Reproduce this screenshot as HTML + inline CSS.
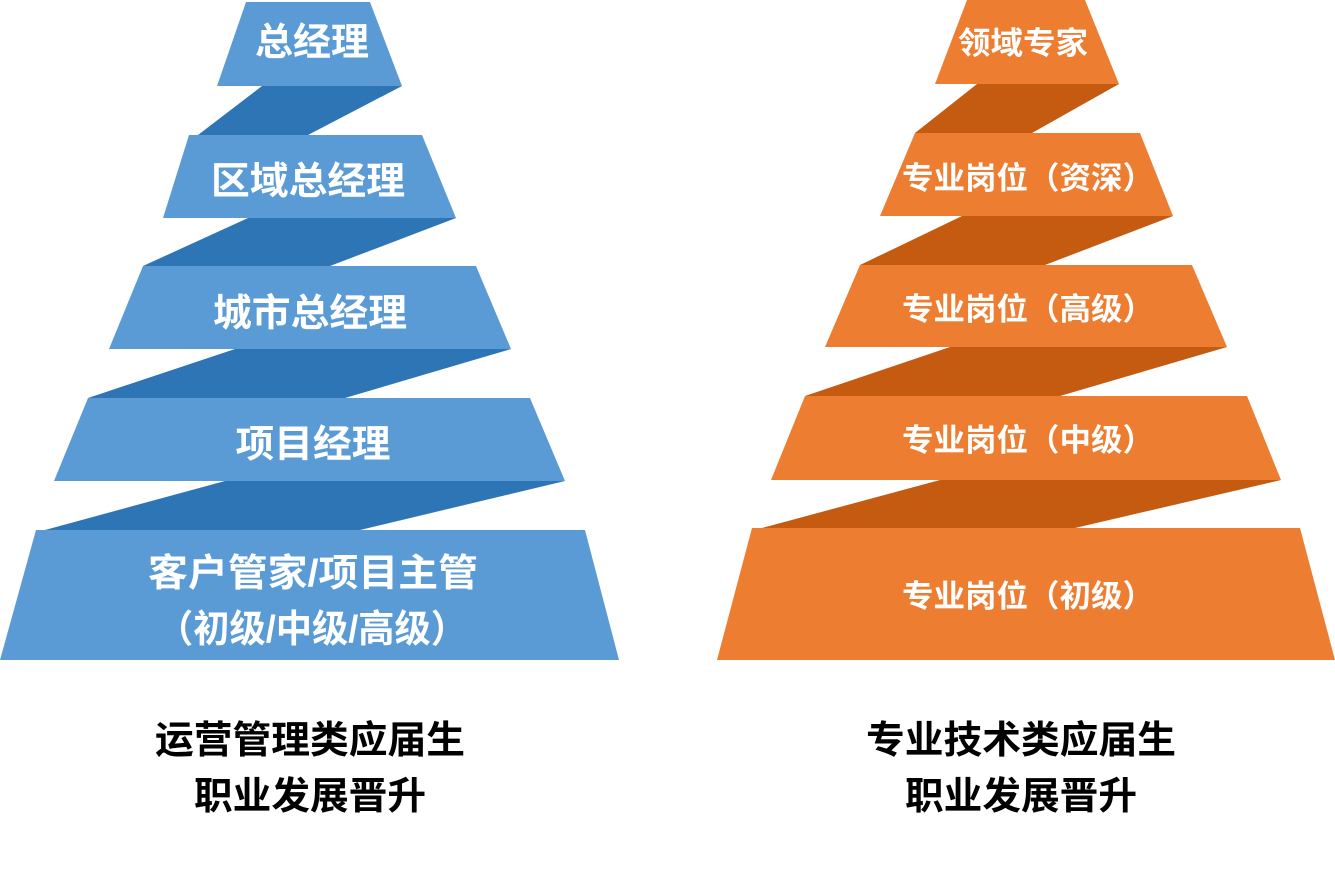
<!DOCTYPE html>
<html><head><meta charset="utf-8"><style>
html,body{margin:0;padding:0;background:#fff;}
svg text{font-family:"Liberation Sans","Noto Sans CJK SC",sans-serif;font-weight:bold;text-anchor:middle;}
</style></head><body>
<svg width="1335" height="868" viewBox="0 0 1335 868" xmlns="http://www.w3.org/2000/svg">
<g fill="#2E75B6">
<polygon points="262,86 402,86 308,135 198,135"/>
<polygon points="248,218 456,218 330,266 143,266"/>
<polygon points="235,349 511,349 345,398 88,398"/>
<polygon points="225,481 565,481 360,530 45,530"/>
</g>
<g fill="#5B9BD5">
<polygon points="246,2 370,2 402,86 217,86"/>
<polygon points="189,135 422,135 456,218 163,218"/>
<polygon points="143,266 476,266 511,349 109,349"/>
<polygon points="88,398 530,398 565,481 54,481"/>
<polygon points="36,530 585,530 619,660 0,660"/>
</g>
<g fill="#C55A11">
<polygon points="977,84 1119,84 1032,133 915,133"/>
<polygon points="962,216 1173,216 1045,265 860,265"/>
<polygon points="950,347 1227,347 1060,396 805,396"/>
<polygon points="940,480 1281,480 1075,528 762,528"/>
</g>
<g fill="#ED7D31">
<polygon points="967,0 1085,0 1119,84 935,84"/>
<polygon points="915,133 1140,133 1173,216 880,216"/>
<polygon points="860,265 1192,265 1227,347 825,347"/>
<polygon points="805,396 1247,396 1281,480 771,480"/>
<polygon points="752,528 1300,528 1335,660 717,660"/>
</g>
<g fill="#fff" font-size="38">
<text x="312" y="55" textLength="114" lengthAdjust="spacingAndGlyphs">总经理</text>
<text x="308" y="194" textLength="194" lengthAdjust="spacingAndGlyphs">区域总经理</text>
<text x="310" y="326" textLength="194" lengthAdjust="spacingAndGlyphs">城市总经理</text>
<text x="313" y="457" textLength="155" lengthAdjust="spacingAndGlyphs">项目经理</text>
<text x="313" y="586" textLength="330" lengthAdjust="spacingAndGlyphs">客户管家/项目主管</text>
<text x="312" y="642" textLength="310" lengthAdjust="spacingAndGlyphs">（初级/中级/高级）</text>
</g>
<g fill="#fff" font-size="31">
<text x="1023" y="54" textLength="130" lengthAdjust="spacingAndGlyphs">领域专家</text>
<text x="1028" y="189" textLength="252" lengthAdjust="spacingAndGlyphs">专业岗位（资深）</text>
<text x="1028" y="320" textLength="252" lengthAdjust="spacingAndGlyphs">专业岗位（高级）</text>
<text x="1028" y="451" textLength="252" lengthAdjust="spacingAndGlyphs">专业岗位（中级）</text>
<text x="1028" y="607" textLength="252" lengthAdjust="spacingAndGlyphs">专业岗位（初级）</text>
</g>
<g fill="#000" font-size="38">
<text x="310" y="753" textLength="310" lengthAdjust="spacingAndGlyphs">运营管理类应届生</text>
<text x="310" y="809" textLength="232" lengthAdjust="spacingAndGlyphs">职业发展晋升</text>
<text x="1021" y="753" textLength="310" lengthAdjust="spacingAndGlyphs">专业技术类应届生</text>
<text x="1021" y="809" textLength="232" lengthAdjust="spacingAndGlyphs">职业发展晋升</text>
</g>
</svg>
</body></html>
